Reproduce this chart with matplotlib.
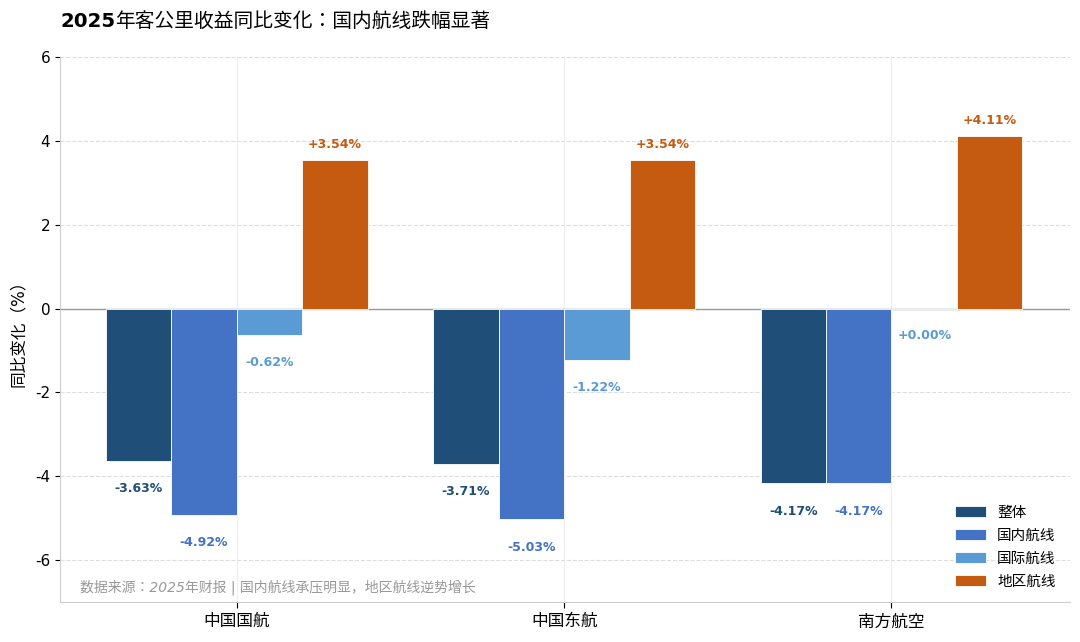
import numpy as np
import matplotlib.pyplot as plt

plt.rcParams['font.family'] = ['DejaVu Sans', 'Noto Sans CJK JP']
plt.rcParams['axes.unicode_minus'] = False

# data
airlines = ['中国国航', '中国东航', '南方航空']
series = ['整体', '国内航线', '国际航线', '地区航线']
overall = [-3.63, -3.71, -4.17]
domestic = [-4.92, -5.03, -4.17]
international = [-0.62, -1.22, 0.00]
regional = [3.54, 3.54, 4.11]

colors = ['#1F4E79', '#4472C4', '#5B9BD5', '#C55A11']
values = [overall, domestic, international, regional]

fig = plt.figure(figsize=(10.8, 6.42), dpi=100)
ax = fig.add_axes([0.0556, 0.0623, 0.935, 0.8487])

x = np.arange(len(airlines))
w = 0.2
for i, (name, vals, c) in enumerate(zip(series, values, colors)):
    pos = x + (i - 1.5) * w
    ax.bar(pos, vals, width=w, color=c, edgecolor='white', linewidth=0.6, label=name, zorder=3)
    for px, v in zip(pos, vals):
        if v > 0:
            off = 11.5
            txt = f'+{v:.2f}%'
        elif v < 0:
            off = -20
            txt = f'{v:.2f}%'
        else:
            off = -19.5
            txt = '+0.00%'
        ax.annotate(txt, (px, v), xytext=(0, off), textcoords='offset points',
                    ha='center', va='center', fontsize=9, fontweight='bold', color=c, zorder=4)

ax.axhline(0, color='#999999', linewidth=1, zorder=2)

ax.set_xlim(-0.54, 2.545)
ax.set_ylim(-7, 6)
ax.set_xticks(x)
ax.set_xticklabels(airlines, fontsize=12)
ax.set_yticks([-6, -4, -2, 0, 2, 4, 6])
ax.tick_params(axis='y', labelsize=11)
ax.tick_params(axis='x', length=4)

ax.grid(axis='y', linestyle='--', color='#dddddd', linewidth=0.8, zorder=0)
ax.grid(axis='x', linestyle='-', color='#eeeeee', linewidth=0.8, zorder=0)

for s in ['top', 'right']:
    ax.spines[s].set_visible(False)
for s in ['left', 'bottom']:
    ax.spines[s].set_color('#cccccc')

ax.set_ylabel('同比变化（%）', fontsize=12, labelpad=6)

# title: digits bold, chinese regular like the original render
fig.canvas.draw()
r = fig.canvas.get_renderer()
t1 = fig.text(0.0556, 0.967, '2025', fontsize=14.2, fontweight='bold', va='center', ha='left')
bb = t1.get_window_extent(renderer=r)
fig.text(bb.x1 / fig.bbox.width, 0.967, '年客公里收益同比变化：国内航线跌幅显著',
         fontsize=14.2, va='center', ha='left')

ax.legend(loc='lower right', frameon=False, fontsize=10.5, handlelength=2.1,
          handleheight=0.8, labelspacing=0.55, handletextpad=0.8,
          bbox_to_anchor=(0.999, 0.0))

ax.text(0.02, 0.027, '数据来源：2025年财报 | 国内航线承压明显，地区航线逆势增长',
        transform=ax.transAxes, fontsize=10, color='#999999', style='italic', va='center')

fig.savefig('out.png', dpi=100)
